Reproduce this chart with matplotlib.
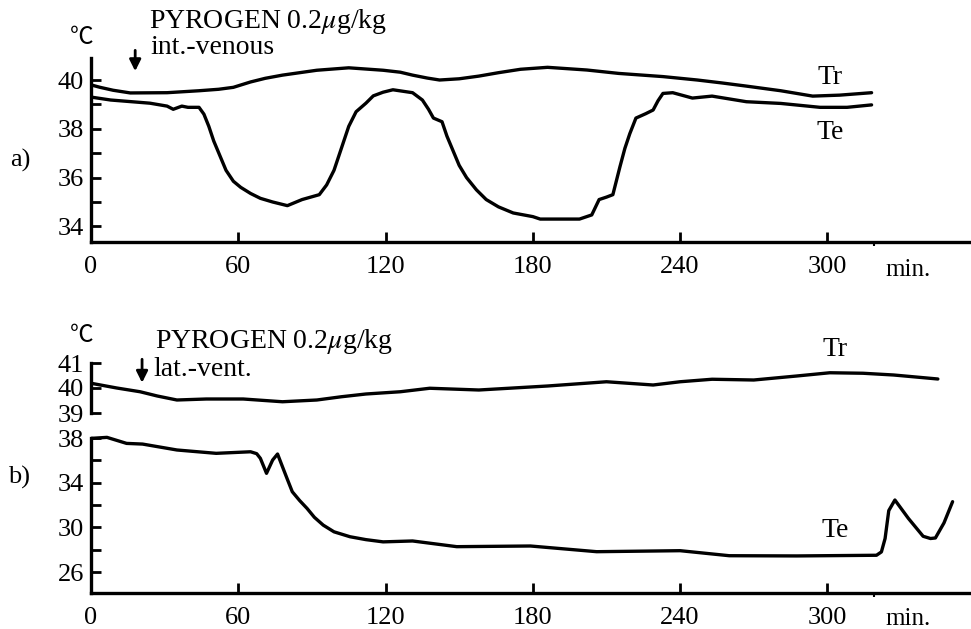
import matplotlib
matplotlib.use('Agg')
import matplotlib.pyplot as plt

plt.rcParams['font.family'] = ['Liberation Serif', 'DejaVu Serif']
plt.rcParams['mathtext.fontset'] = 'stix'

# panel a) intravenous pyrogen: time (min) and temperature (C)
a_tr_t = [0, 3.7, 9, 16, 31, 44, 52, 58, 65, 71, 78, 85, 92, 105, 119, 126, 131, 137, 142,
          150, 158, 166, 175, 186, 202, 215, 233, 247, 257, 267, 281, 294, 305, 318]
a_tr = [39.8, 39.7, 39.58, 39.47, 39.48, 39.56, 39.62, 39.7, 39.92, 40.07, 40.2, 40.3,
        40.4, 40.5, 40.4, 40.32, 40.2, 40.08, 40.0, 40.05, 40.16, 40.3, 40.44, 40.52, 40.41,
        40.27, 40.14, 40.0, 39.88, 39.75, 39.56, 39.34, 39.38, 39.48]

a_te_t = [0, 8, 24, 31, 33.5, 37, 39.5, 44, 46, 48, 50, 52.5, 55, 58, 61, 65, 69, 74, 80,
          86, 93, 96, 99, 102, 105, 108, 112, 115, 119, 123, 131, 135, 137.5, 139.5, 143,
          145, 147.5, 150, 153, 157, 161, 166, 172, 180, 183, 199, 204, 207, 210, 212.6,
          215.5, 217.5, 219.5, 222, 226, 229, 231, 233, 237, 245, 253, 267, 281, 297, 308,
          318]
a_te = [39.3, 39.18, 39.05, 38.93, 38.8, 38.93, 38.88, 38.88, 38.6, 38.1, 37.5, 36.9, 36.3,
        35.85, 35.6, 35.35, 35.15, 35.0, 34.85, 35.1, 35.3, 35.7, 36.3, 37.2, 38.1, 38.7,
        39.05, 39.35, 39.5, 39.6, 39.48, 39.18, 38.8, 38.44, 38.29, 37.7, 37.1, 36.5, 36.0,
        35.5, 35.1, 34.8, 34.55, 34.4, 34.3, 34.3, 34.47, 35.1, 35.2, 35.3, 36.45, 37.2,
        37.8, 38.44, 38.62, 38.77, 39.15, 39.45, 39.48, 39.26, 39.34, 39.11, 39.04, 38.88,
        38.88, 38.98]

# panel b) lateral ventricle pyrogen
b_tr_t = [0, 10.5, 20, 27, 35, 47, 62, 78, 92, 102, 112, 126, 138, 158, 186, 210, 229,
          240, 253, 270, 287.5, 301, 314.5, 327, 345]
b_tr = [40.19, 40.0, 39.85, 39.68, 39.52, 39.56, 39.56, 39.45, 39.52, 39.65, 39.76, 39.85,
        39.99, 39.92, 40.08, 40.25, 40.12, 40.25, 40.35, 40.32, 40.48, 40.61, 40.59, 40.52,
        40.36]

b_te_t = [0, 6.5, 14.5, 21, 35, 51, 65, 67.5, 69, 71.5, 74, 76, 78, 80, 82, 85, 88, 91,
          94.6, 99, 105.5, 112, 119, 131, 149, 179, 206, 240, 260, 287.5, 320, 322, 323.5,
          325, 327.5, 333, 339, 342, 344, 347.5, 351]
b_te = [37.97, 38.06, 37.52, 37.46, 36.93, 36.63, 36.77, 36.6, 36.18, 34.84, 36.03, 36.57,
        35.43, 34.3, 33.19, 32.4, 31.7, 30.9, 30.2, 29.6, 29.16, 28.9, 28.7, 28.78, 28.27,
        28.33, 27.82, 27.91, 27.46, 27.44, 27.5, 27.8, 29.0, 31.5, 32.45, 30.8, 29.2, 29.0,
        29.05, 30.4, 32.3]

x_ticks = [0, 60, 120, 180, 240, 300]
inject_a = 18    # arrow, min
inject_b = 20.8

W, H = 971, 629
fig = plt.figure(figsize=(W / 100, H / 100), dpi=100)


def box(l, t, r, b):
    return [l / W, 1 - b / H, (r - l) / W, (b - t) / H]


def ftext(x, y, s, **kw):
    fig.text(x / W, 1 - y / H, s, **kw)


LW = 2.4
FS = 19
XMAX = 358.5
line_kw = dict(color='black', lw=LW, solid_joinstyle='round', solid_capstyle='round')


def style_x(ax):
    ax.set_xlim(0, XMAX)
    ax.set_xticks(x_ticks)
    ax.set_xticks([319], minor=True)
    ax.tick_params(axis='x', which='major', direction='in', length=7, width=2,
                   pad=10, labelsize=FS)
    ax.tick_params(axis='x', which='minor', direction='out', length=3, width=1.5)
    ax.spines['bottom'].set_linewidth(LW)


def style_y(ax, lo, hi, major, minor):
    ax.spines['left'].set_bounds(lo, hi)
    ax.spines['left'].set_linewidth(LW)
    ax.set_yticks(major)
    ax.set_yticks(minor, minor=True)
    ax.tick_params(axis='y', which='both', direction='in', length=7, width=2,
                   pad=5, labelsize=FS)
    for s in ['top', 'right']:
        ax.spines[s].set_visible(False)


arrow_kw = dict(arrowstyle='-|>', color='black', lw=2, mutation_scale=17)

# ---- a)
ax = fig.add_axes(box(91, 40, 971, 242))
ax.plot(a_tr_t, a_tr, **line_kw)
ax.plot(a_te_t, a_te, **line_kw)
ax.set_ylim(33.36, 41.64)
style_x(ax)
style_y(ax, 33.36, 40.9, [34, 36, 38, 40], [35, 37, 39])
ax.annotate('', xy=(inject_a, 40.25), xytext=(inject_a, 41.33), arrowprops=arrow_kw)
ax.text(301, 40.12, 'Tr', fontsize=FS + 1, ha='center', va='center')
ax.text(301, 37.83, 'Te', fontsize=FS + 1, ha='center', va='center')

# ---- b) lower part (Te) and upper part (Tr), broken y axis
axl = fig.add_axes(box(91, 430, 971, 593))
axl.plot(b_te_t, b_te, **line_kw)
axl.set_ylim(24.12, 38.72)
style_x(axl)
style_y(axl, 24.12, 38, [26, 30, 34, 38], [28, 32, 36])
axl.text(303, 29.76, 'Te', fontsize=FS + 1, ha='center', va='center')

axu = fig.add_axes(box(91, 340, 971, 420), sharex=axl)
axu.patch.set_alpha(0)
axu.plot(b_tr_t, b_tr, **line_kw)
axu.set_ylim(38.72, 41.92)
style_y(axu, 39, 41, [39, 40, 41], [])
axu.spines['bottom'].set_visible(False)
axu.tick_params(axis='x', which='both', bottom=False, labelbottom=False)
axu.annotate('', xy=(inject_b, 40.1), xytext=(inject_b, 41.26), arrowprops=arrow_kw)
axu.text(303, 41.52, 'Tr', fontsize=FS + 1, ha='center', va='center')

# ---- labels
for y in [270, 619]:
    ftext(908, y, 'min.', fontsize=FS - 1, ha='center', va='center')
for y in [38, 335]:
    ftext(82, y, '℃', fontsize=17, ha='center', va='center',
          family=['Noto Sans CJK JP', 'DejaVu Sans'])
ftext(20, 160, 'a)', fontsize=FS, ha='center', va='center')
ftext(19, 477, 'b)', fontsize=FS, ha='center', va='center')
ftext(149, 21, r'PYROGEN 0.2$\mu$g/kg', fontsize=20, ha='left', va='center')
ftext(150, 48, 'int.-venous', fontsize=20, ha='left', va='center')
ftext(155, 341, r'PYROGEN 0.2$\mu$g/kg', fontsize=20, ha='left', va='center')
ftext(153, 369, 'lat.-vent.', fontsize=20, ha='left', va='center')

fig.savefig('out.png', dpi=100)
